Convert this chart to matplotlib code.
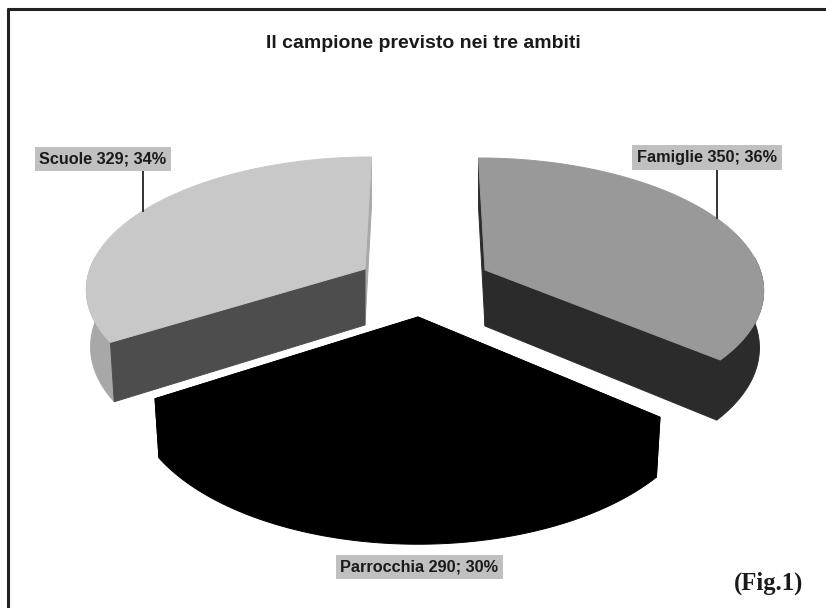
import numpy as np
import matplotlib
matplotlib.use("Agg")
import matplotlib.pyplot as plt
from matplotlib.patches import Polygon

# Planned sample in the three settings
categories = ["Famiglie", "Parrocchia", "Scuole"]
values = [350, 290, 329]

TITLE = "Il campione previsto nei tre ambiti"
FIG_TAG = "(Fig.1)"

# Appearance of each slice: top face, rim, wall at the start angle, wall at the end angle
top_colors = ["#999999", "#000000", "#c8c8c8"]
rim_colors = ["#2b2b2b", "#000000", "#a8a8a8"]
start_wall_colors = ["#2b2b2b", "#000000", "#4d4d4d"]
end_wall_colors = ["#2b2b2b", "#000000", "#a8a8a8"]

# Exploded placement of each slice in the perspective view (pixel-like axes units)
centers = [(485, 270), (418, 317), (365, 269)]
half_widths = [275, 288, 275]
half_depths = [127.5, 142, 127.5]
leans = [-6.5, 0, 6.5]

PERSPECTIVE = 0.138
THICKNESS = 56
FLOOR_SHRINK = 0.985


def project(theta, idx, floor=False):
    """Map pie angles (clockwise from the back) to drawing coordinates."""
    cx, cy = centers[idx]
    u, v = np.sin(theta), np.cos(theta)
    depth = 1 + PERSPECTIVE * v
    dx = half_widths[idx] * u / depth + leans[idx] * v
    dy = -half_depths[idx] * v / depth
    if floor:
        return cx + FLOOR_SHRINK * dx, cy + FLOOR_SHRINK * dy + THICKNESS / depth
    return cx + dx, cy + dy


def face(points, colour, z):
    # a hairline in the fill colour closes the seams between neighbouring faces
    ax.add_patch(Polygon(points, closed=True, fc=colour, ec=colour, lw=0.7, zorder=z))


fig = plt.figure(figsize=(8.26, 6.08), dpi=100, facecolor="white")
ax = fig.add_axes([0, 0, 1, 1])
ax.set_xlim(0, 826)
ax.set_ylim(608, 0)
ax.axis("off")

total = sum(values)
edges = np.cumsum([0] + values) / total * 2 * np.pi

for i in range(len(values)):
    a0, a1 = edges[i], edges[i + 1]
    arc = np.linspace(a0, a1, 200)
    cx, cy = centers[i]
    base = (cx, cy + THICKNESS)

    # rim of the slice, only the part that faces the viewer
    near = arc[np.cos(arc) < 0.1]
    tx, ty = project(near, i)
    bx, by = project(near, i, floor=True)
    face(np.column_stack([np.r_[tx, bx[::-1]], np.r_[ty, by[::-1]]]), rim_colors[i], 2)

    # the two cut walls
    for angle, colour in ((a1, end_wall_colors[i]), (a0, start_wall_colors[i])):
        px, py = project(angle, i)
        qx, qy = project(angle, i, floor=True)
        face([(cx, cy), (px, py), (qx, qy), base], colour, 3)

    # top face
    ox, oy = project(arc, i)
    face(np.column_stack([np.r_[cx, ox], np.r_[cy, oy]]), top_colors[i], 4)

# Frame around the chart area (top and left rules)
ax.plot([8.3, 8.3], [7.5, 608], color="#222222", lw=2.2, solid_capstyle="butt", zorder=6)
ax.plot([7, 826], [8.6, 8.6], color="#222222", lw=2.2, solid_capstyle="butt", zorder=6)

# Leader lines
ax.plot([143, 143], [171, 211], color="#222222", lw=1.3, zorder=5)
ax.plot([717, 717], [169, 218], color="#222222", lw=1.3, zorder=5)

ax.text(423.5, 43.5, TITLE, ha="center", va="center", fontsize=14, fontweight="bold",
        family="Liberation Sans", color="#1a1a1a", zorder=7)

label_pos = [(707, 157.5), (419.5, 567), (103, 159)]
for i, name in enumerate(categories):
    pct = round(100 * values[i] / total)
    ax.text(*label_pos[i], f"{name} {values[i]}; {pct}%", ha="center", va="center",
            fontsize=11.7, fontweight="bold", family="Liberation Sans", color="#1a1a1a",
            bbox=dict(fc="#c0c0c0", ec="none", boxstyle="square,pad=0.3"), zorder=7)

ax.text(768.5, 583, FIG_TAG, ha="center", va="center", fontsize=17.7, fontweight="bold",
        family="Liberation Serif", color="#1a1a1a", zorder=7)

fig.savefig("out.png", dpi=100, facecolor="white")
